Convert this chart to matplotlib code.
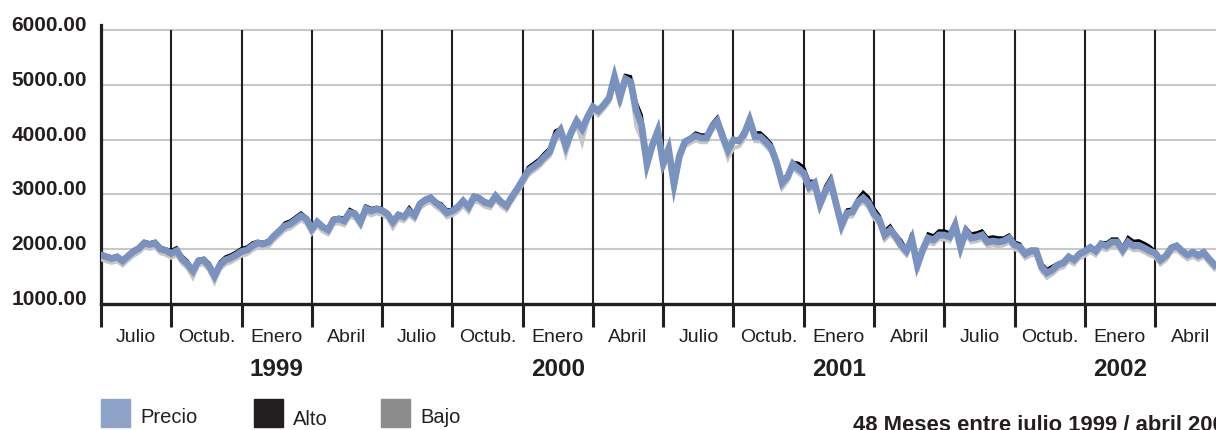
import numpy as np
import matplotlib
matplotlib.use("Agg")
import matplotlib.pyplot as plt
from matplotlib.patches import Rectangle

W, H = 1216, 431

# weekly closing values (Precio)
precio = [
    1894, 1858, 1830, 1858, 1785, 1876, 1958, 2013, 2113, 2086,
    2113, 2004, 1976, 1922, 1973, 1821, 1730, 1602, 1785, 1803,
    1694, 1511, 1712, 1803, 1840, 1894, 1958, 1986, 2059, 2113,
    2095, 2131, 2241, 2332, 2424, 2460, 2533, 2606, 2551, 2369,
    2497, 2405, 2351, 2533, 2551, 2515, 2670, 2643, 2497, 2743,
    2697, 2734, 2706, 2643, 2497, 2624, 2588, 2697, 2615, 2825,
    2898, 2935, 2843, 2770, 2661, 2697, 2770, 2880, 2770, 2953,
    2925, 2852, 2825, 2971, 2862, 2789, 2953, 3099, 3263, 3427,
    3500, 3573, 3683, 3774, 4048, 4176, 3883, 4139, 4340, 4194,
    4413, 4595, 4522, 4632, 4760, 5143, 4778, 5107, 5052, 4541,
    4267, 3555, 3902, 4157, 3573, 3829, 3190, 3701, 3957, 4011,
    4066, 4030, 4030, 4230, 4340, 4048, 3810, 3993, 3975, 4103,
    4358, 4048, 4048, 3957, 3847, 3573, 3208, 3318, 3555, 3464,
    3391, 3135, 3208, 2825, 3062, 3227, 2825, 2442, 2661, 2679,
    2862, 2935, 2843, 2643, 2533, 2259, 2351, 2241, 2077, 1967,
    2186, 1712, 1986, 2205, 2168, 2259, 2259, 2223, 2442, 2040,
    2332, 2205, 2223, 2259, 2131, 2150, 2131, 2150, 2205, 2077,
    2040, 1912, 1967, 1967, 1675, 1566, 1621, 1712, 1748, 1858,
    1803, 1912, 1958, 2031, 1967, 2095, 2059, 2131, 2131, 1986,
    2131, 2059, 2068, 2022, 1967, 1931, 1803, 1876, 2022, 2059,
    1967, 1894, 1940, 1885, 1940, 1821, 1712,
]

# how far the weekly high sits above the close
alto_gap = [
    35, 35, 35, 35, 35, 35, 35, 35, 35, 35,
    35, 35, 35, 60, 60, 60, 60, 35, 35, 35,
    60, 60, 60, 60, 60, 60, 60, 60, 60, 35,
    35, 35, 35, 35, 60, 60, 60, 60, 35, 35,
    35, 35, 35, 35, 35, 60, 60, 35, 35, 50,
    50, 35, 35, 35, 35, 35, 35, 70, 35, 35,
    35, 35, 35, 60, 60, 35, 35, 35, 35, 35,
    35, 35, 35, 35, 35, 35, 35, 35, 35, 70,
    70, 70, 70, 70, 110, 35, 35, 35, 35, 35,
    35, 35, 35, 35, 35, 35, 35, 70, 100, 150,
    180, 110, 35, 35, 60, 35, 35, 35, 35, 35,
    60, 60, 60, 60, 70, 110, 35, 35, 35, 80,
    80, 80, 80, 80, 80, 80, 80, 35, 35, 110,
    110, 110, 35, 40, 90, 90, 90, 60, 60, 60,
    60, 110, 110, 110, 80, 80, 80, 35, 90, 35,
    110, 110, 35, 80, 80, 80, 80, 80, 60, 60,
    60, 80, 80, 80, 80, 80, 80, 60, 60, 60,
    60, 35, 35, 35, 70, 70, 70, 35, 35, 35,
    35, 35, 35, 35, 35, 35, 60, 60, 60, 60,
    90, 90, 90, 90, 90, 35, 35, 35, 35, 35,
    35, 35, 35, 35, 35, 35, 35,
]

# how far the weekly low sits below the close
bajo_gap = [
    80, 80, 80, 80, 80, 80, 80, 80, 80, 80,
    80, 80, 80, 80, 80, 80, 80, 120, 80, 80,
    80, 110, 80, 80, 80, 80, 80, 80, 80, 80,
    80, 80, 80, 80, 80, 80, 80, 80, 80, 80,
    80, 80, 80, 80, 80, 80, 80, 80, 80, 80,
    80, 80, 80, 80, 110, 80, 80, 80, 80, 80,
    80, 80, 80, 80, 80, 80, 90, 90, 90, 80,
    80, 80, 80, 80, 80, 80, 80, 80, 80, 80,
    80, 80, 80, 80, 80, 80, 150, 80, 80, 250,
    80, 80, 80, 80, 80, 80, 150, 80, 80, 300,
    250, 80, 80, 80, 120, 80, 150, 80, 80, 80,
    80, 80, 80, 80, 80, 80, 150, 150, 100, 100,
    80, 80, 80, 80, 80, 80, 100, 80, 80, 80,
    80, 80, 80, 80, 80, 80, 80, 100, 80, 80,
    80, 80, 80, 80, 80, 90, 80, 80, 80, 80,
    80, 120, 80, 80, 80, 80, 80, 80, 80, 100,
    80, 80, 80, 80, 80, 80, 80, 80, 80, 80,
    80, 80, 80, 80, 80, 90, 80, 80, 80, 80,
    80, 80, 80, 80, 80, 80, 80, 80, 80, 80,
    80, 80, 80, 80, 80, 80, 80, 80, 80, 80,
    80, 80, 80, 80, 80, 80, 80,
]

meses = ["Julio", "Octub.", "Enero", "Abril"] * 4
anios = ["1999", "2000", "2001", "2002"]
anio_pos = [7.5, 19.5, 31.5, 43.5]
y_ticks = [1000, 2000, 3000, 4000, 5000, 6000]

COL_PRECIO = "#7a92bf"
COL_ALTO = "#000000"
COL_BAJO = "#c6c6c6"
INK = "#231f20"

plt.rcParams["font.family"] = ["Liberation Sans", "DejaVu Sans"]


def fx(x):
    return x / W


def fy(y):
    return 1 - y / H


def main():
    precio_a = np.array(precio, dtype=float)
    alto = precio_a + np.array(alto_gap)
    bajo = precio_a - np.array(bajo_gap)
    months = np.arange(len(precio_a)) * 12 / 52

    fig = plt.figure(figsize=(W / 100, H / 100), dpi=100)
    ax = fig.add_axes([fx(101), fy(305), 1 - fx(101), fy(25.5) - fy(305)])
    ax.set_xlim(0, 47.6)
    ax.set_ylim(1000, 6100)

    for side in ["top", "right"]:
        ax.spines[side].set_visible(False)
    ax.spines["left"].set_linewidth(2.3)
    ax.spines["bottom"].set_linewidth(2.4)
    ax.spines["left"].set_color(INK)
    ax.spines["bottom"].set_color(INK)

    # horizontal grid
    for v in y_ticks[1:]:
        ax.axhline(v, color="#c8c8c8", lw=1.5, zorder=1)

    quarters = np.arange(3, 46, 3)
    ax.vlines(quarters, 1000, 6000, colors=INK, lw=1.5, zorder=2)

    ax.plot(months, bajo, color=COL_BAJO, lw=2.8, zorder=3, solid_joinstyle="miter")
    ax.plot(months, alto, color=COL_ALTO, lw=2.0, zorder=4, solid_joinstyle="miter")
    ax.plot(months, precio_a, color=COL_PRECIO, lw=4.9, zorder=5, solid_joinstyle="miter")

    ax.set_yticks(y_ticks)
    ax.set_yticklabels([f"{v:.2f}" for v in y_ticks], fontsize=15, fontweight="bold", color=INK)
    ax.tick_params(axis="y", length=0, pad=10)
    for t in ax.get_yticklabels():
        t.set_va("baseline")

    ax.set_xticks(np.arange(0, 46, 3))
    ax.set_xticklabels([])
    ax.tick_params(axis="x", which="major", length=16.5, width=2.2, color=INK, direction="out")
    ax.set_xticks(np.arange(1.5, 48, 3), minor=True)
    ax.set_xticklabels(meses, minor=True, fontsize=14, color=INK)
    ax.tick_params(axis="x", which="minor", length=0, pad=17)

    trans = ax.get_xaxis_transform()
    y_year = (305 - 369) / (305 - 25.5)
    for pos, lab in zip(anio_pos, anios):
        ax.text(pos, y_year, lab, transform=trans, ha="center", va="center",
                fontsize=17.5, fontweight="bold", color=INK)

    # legend boxes
    legend = [("Precio", "#8ea3c8", 101, 140, 418),
              ("Alto", "#231f20", 254, 293, 420),
              ("Bajo", "#8c8c8c", 381, 420, 418)]
    for lab, col, x0, xt, yt in legend:
        fig.patches.append(Rectangle((fx(x0), fy(428)), 29 / W, 28 / H,
                                     transform=fig.transFigure, color=col))
        fig.text(fx(xt), fy(yt), lab, fontsize=14.5, color=INK, va="center", ha="left")

    # runs past the right edge, as in the original
    fig.text(fx(853), fy(431), "48 Meses entre julio 1999 / abril 2002",
             fontsize=15.8, fontweight="bold", color=INK, va="baseline", ha="left")

    fig.savefig("out.png", dpi=100)


if __name__ == "__main__":
    main()
